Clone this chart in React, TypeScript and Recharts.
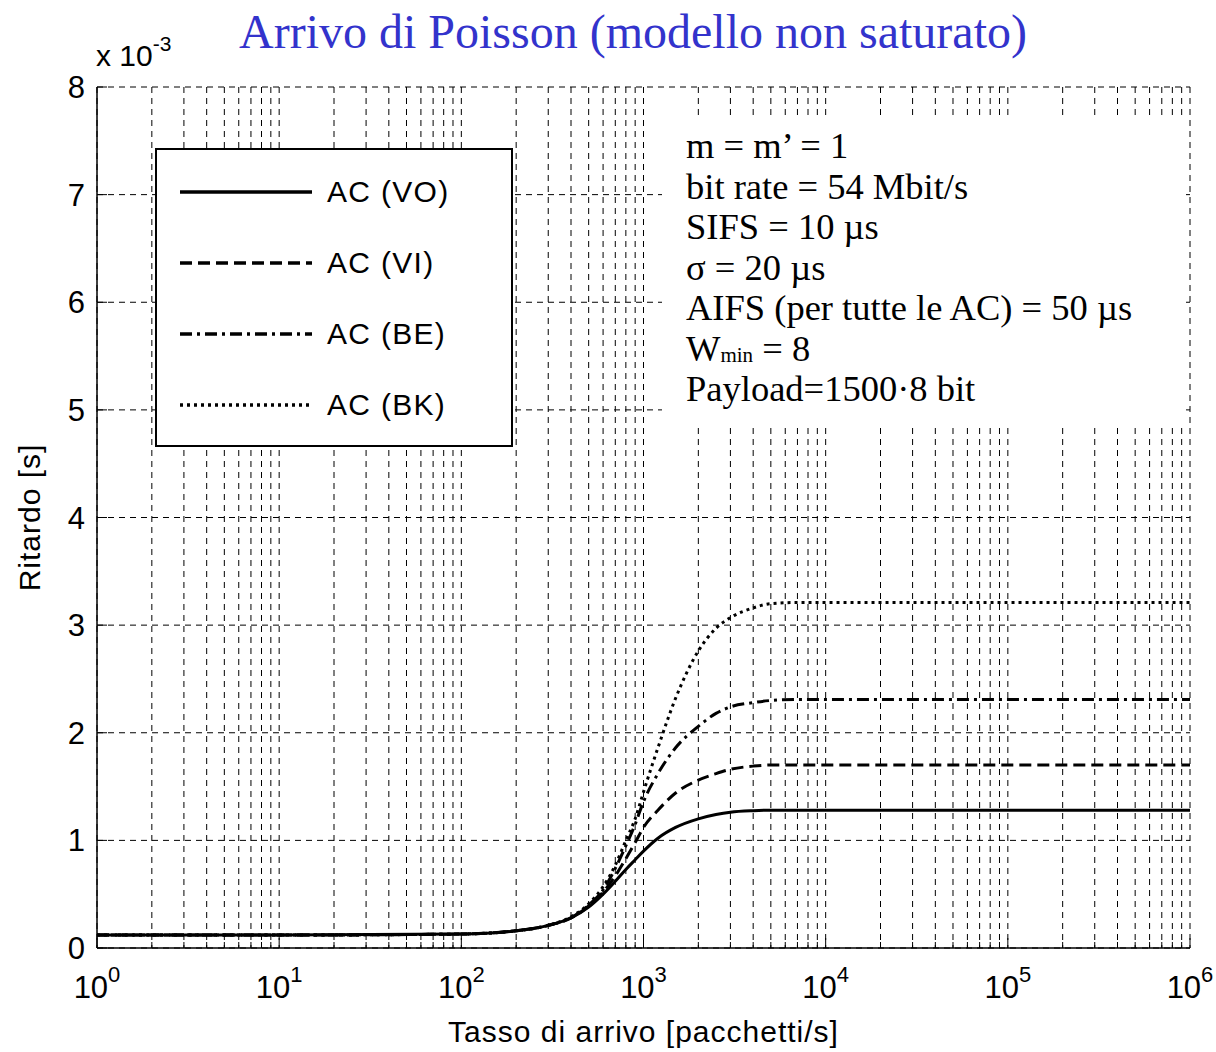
import React from 'react'
import { LineChart, Line, XAxis, YAxis, CartesianGrid, Legend } from 'recharts'

// arrival rate [packets/s] (log axis)
const rates = [1, 10, 100, 200, 300, 400, 500, 600, 700, 800, 900, 1000, 1200, 1500, 2000, 2500, 3000, 4000, 5000, 7000, 10000, 100000, 1000000]
// delay [s x 1e-3] per access category
const delayVO = [0.12, 0.12, 0.13, 0.16, 0.21, 0.28, 0.38, 0.5, 0.62, 0.73, 0.82, 0.9, 1.02, 1.12, 1.2, 1.24, 1.262, 1.276, 1.28, 1.28, 1.28, 1.28, 1.28]
const delayVI = [0.12, 0.12, 0.13, 0.16, 0.21, 0.28, 0.39, 0.52, 0.67, 0.83, 0.98, 1.12, 1.28, 1.44, 1.56, 1.62, 1.66, 1.69, 1.7, 1.7, 1.7, 1.7, 1.7]
const delayBE = [0.12, 0.12, 0.13, 0.16, 0.21, 0.28, 0.4, 0.54, 0.74, 0.95, 1.15, 1.36, 1.62, 1.86, 2.06, 2.18, 2.24, 2.28, 2.3, 2.31, 2.31, 2.31, 2.31]
const delayBK = [0.12, 0.12, 0.13, 0.16, 0.21, 0.29, 0.41, 0.57, 0.77, 1.0, 1.2, 1.45, 1.86, 2.32, 2.76, 2.97, 3.07, 3.16, 3.2, 3.21, 3.21, 3.21, 3.21]

const decades = [1, 10, 100, 1000, 10000, 100000, 1000000]
const minorSteps = [1, 2, 3, 4, 5, 6, 7, 8, 9]
const yTicks = [0, 1, 2, 3, 4, 5, 6, 7, 8]

const xTicks: number[] = []
decades.forEach((d, i) => {
  if (i === decades.length - 1) xTicks.push(d)
  else minorSteps.forEach((m) => xTicks.push(d * m))
})

const data = rates.map((r, i) => ({
  rate: r,
  vo: delayVO[i],
  vi: delayVI[i],
  be: delayBE[i],
  bk: delayBK[i],
}))

const series = [
  { key: 'vo', name: 'AC (VO)', dash: undefined as string | undefined },
  { key: 'vi', name: 'AC (VI)', dash: '12 6' },
  { key: 'be', name: 'AC (BE)', dash: '12 5 3 5' },
  { key: 'bk', name: 'AC (BK)', dash: '3 4' },
]

const sans = '"Liberation Sans", Arial, sans-serif'
const serif = '"Liberation Serif", "Times New Roman", serif'

const isMajor = (v: number) => Math.abs(Math.log10(v) - Math.round(Math.log10(v))) < 1e-9

const BottomTick = (props: any) => {
  const { x, y, payload } = props
  const v = payload.value
  const major = isMajor(v)
  return (
    <g>
      <line x1={x} x2={x} y1={y} y2={y - (major ? 10 : 6)} stroke='#000' />
      {major && (
        <text x={x} y={y + 50} textAnchor='middle' fontFamily={sans} fontSize={31} fill='#000'>
          10
          <tspan dy={-16} fontSize={22}>{Math.round(Math.log10(v))}</tspan>
        </text>
      )}
    </g>
  )
}

const TopTick = (props: any) => {
  const { x, y, payload } = props
  const major = isMajor(payload.value)
  return <line x1={x} x2={x} y1={y} y2={y + (major ? 10 : 6)} stroke='#000' />
}

const LeftTick = (props: any) => {
  const { x, y, payload } = props
  return (
    <g>
      <line x1={x} x2={x + 10} y1={y} y2={y} stroke='#000' />
      <text x={x - 12} y={y + 11} textAnchor='end' fontFamily={sans} fontSize={31} fill='#000'>
        {payload.value}
      </text>
    </g>
  )
}

const RightTick = (props: any) => {
  const { x, y } = props
  return <line x1={x} x2={x - 10} y1={y} y2={y} stroke='#000' />
}

const LegendBox = () => (
  <div
    style={{
      width: 358,
      height: 299,
      border: '2px solid #000',
      background: '#fff',
      boxSizing: 'border-box',
      position: 'relative',
    }}
  >
    {series.map((s, i) => (
      <div
        key={s.key}
        style={{ position: 'absolute', left: 22, top: 22 + i * 71, height: 40, display: 'flex', alignItems: 'center' }}
      >
        <svg width={134} height={10} style={{ display: 'block' }}>
          <line x1={1} x2={133} y1={5} y2={5} stroke='#000' strokeWidth={3.5} strokeDasharray={s.dash} />
        </svg>
        <span style={{ marginLeft: 14, fontFamily: sans, fontSize: 30, letterSpacing: 1.3, color: '#000' }}>{s.name}</span>
      </div>
    ))}
  </div>
)

const notes = [
  'm = m’ = 1',
  'bit rate = 54 Mbit/s',
  'SIFS = 10 µs',
  'σ = 20 µs',
  'AIFS (per tutte le AC) = 50 µs',
  'W_min = 8',
  'Payload=1500·8 bit',
]

export default function App() {
  return (
    <div style={{ position: 'absolute', left: 0, top: 0, width: 1216, height: 1052, background: '#fff' }}>
      <div
        style={{
          position: 'absolute',
          left: 0,
          width: 1266,
          top: 3,
          textAlign: 'center',
          fontFamily: serif,
          fontSize: 48,
          color: '#3333cc',
          lineHeight: '58px',
        }}
      >
        Arrivo di Poisson (modello non saturato)
      </div>
      <div style={{ position: 'absolute', left: 96, top: 36, fontFamily: sans, fontSize: 30, color: '#000', whiteSpace: 'nowrap' }}>
        x 10<sup style={{ fontSize: 21, position: 'relative', top: -4 }}>-3</sup>
      </div>
      <LineChart
        width={1216}
        height={1052}
        data={data}
        margin={{ top: 87, right: 26, left: 37, bottom: 54 }}
      >
        <CartesianGrid
          xAxisId='b'
          yAxisId='l'
          stroke='#000'
          strokeDasharray='6 5'
          strokeWidth={1}
          fill='none'
        />
        <XAxis
          xAxisId='b'
          dataKey='rate'
          type='number'
          scale='log'
          domain={[1, 1000000]}
          ticks={xTicks}
          allowDataOverflow
          interval={0}
          tickSize={0}
          tickMargin={0}
          tick={<BottomTick />}
          axisLine={{ stroke: '#000', strokeWidth: 1.5 }}
          height={50}
          label={(p: any) => (
            <text
              x={p.viewBox.x + p.viewBox.width / 2}
              y={p.viewBox.y + 94}
              textAnchor='middle'
              fontFamily={sans}
              fontSize={30}
              letterSpacing={1}
              fill='#000'
            >
              Tasso di arrivo [pacchetti/s]
            </text>
          )}
        />
        <XAxis
          xAxisId='t'
          orientation='top'
          dataKey='rate'
          type='number'
          scale='log'
          domain={[1, 1000000]}
          ticks={xTicks}
          allowDataOverflow
          interval={0}
          tickSize={0}
          tickMargin={0}
          tick={<TopTick />}
          axisLine={{ stroke: '#000', strokeWidth: 1.5 }}
          height={0}
        />
        <YAxis
          yAxisId='l'
          type='number'
          domain={[0, 8]}
          ticks={yTicks}
          interval={0}
          allowDataOverflow
          tickSize={0}
          tickMargin={0}
          tick={<LeftTick />}
          axisLine={{ stroke: '#000', strokeWidth: 1.5 }}
          width={60}
          label={(p: any) => (
            <text
              x={40}
              y={p.viewBox.y + p.viewBox.height / 2}
              transform={`rotate(-90, 40, ${p.viewBox.y + p.viewBox.height / 2})`}
              textAnchor='middle'
              fontFamily={sans}
              fontSize={30}
              letterSpacing={1}
              fill='#000'
            >
              Ritardo [s]
            </text>
          )}
        />
        <YAxis
          yAxisId='r'
          orientation='right'
          type='number'
          domain={[0, 8]}
          ticks={yTicks}
          interval={0}
          allowDataOverflow
          tickSize={0}
          tickMargin={0}
          tick={<RightTick />}
          axisLine={{ stroke: '#000', strokeWidth: 1.5 }}
          width={0}
        />
        {series.map((s) => (
          <Line
            key={s.key}
            xAxisId='b'
            yAxisId='l'
            type='monotone'
            dataKey={s.key}
            name={s.name}
            stroke='#000'
            strokeWidth={3}
            strokeDasharray={s.dash}
            dot={false}
            activeDot={false}
            isAnimationActive={false}
          />
        ))}
        <Legend
          layout='vertical'
          align='center'
          verticalAlign='middle'
          content={<LegendBox />}
          wrapperStyle={{ left: 155, top: 148, width: 358, height: 299 }}
        />
      </LineChart>
      <div
        style={{
          position: 'absolute',
          left: 662,
          top: 120,
          width: 524,
          height: 306,
          background: '#fff',
          boxSizing: 'border-box',
          paddingLeft: 24,
          paddingTop: 6,
          fontFamily: serif,
          fontSize: 36.5,
          lineHeight: '40.5px',
          color: '#000',
          whiteSpace: 'nowrap',
        }}
      >
        {notes.map((n) =>
          n.startsWith('W_') ? (
            <div key={n} style={{ height: 40.5 }}>
              W
              <span style={{ fontSize: 21, lineHeight: '14px', position: 'relative', top: 1 }}>min</span>
              {n.slice(5)}
            </div>
          ) : (
            <div key={n} style={{ height: 40.5 }}>
              {n}
            </div>
          ),
        )}
      </div>
    </div>
  )
}
